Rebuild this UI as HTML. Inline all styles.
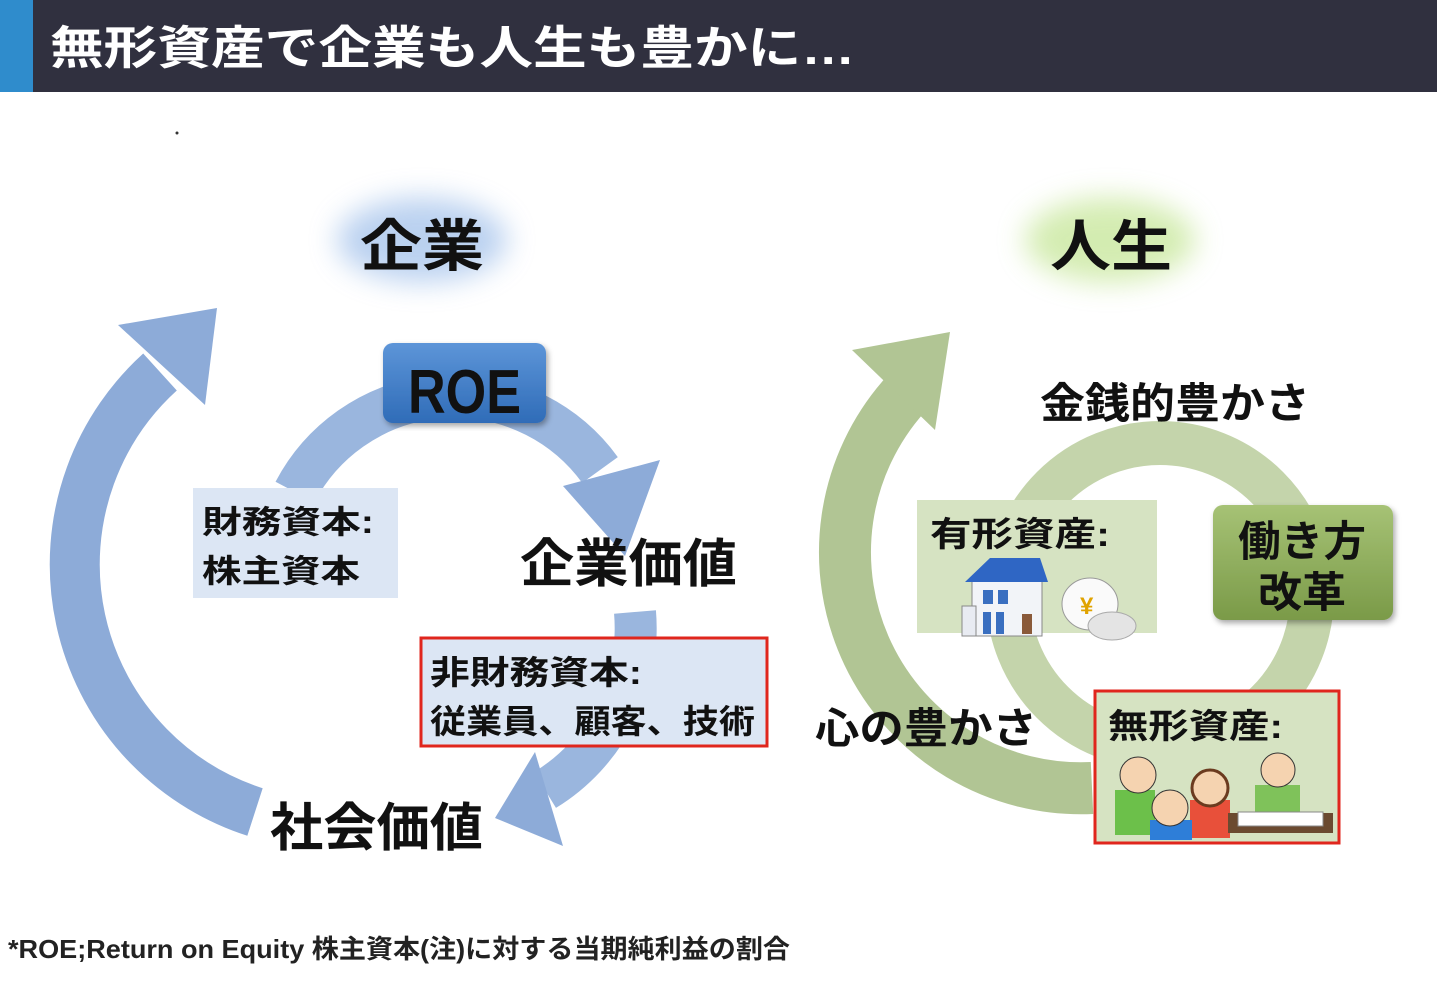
<!DOCTYPE html>
<html><head><meta charset="utf-8"><style>
html,body{margin:0;padding:0;background:#fff;}
svg{display:block;}
text{font-family:"Liberation Sans","Noto Sans CJK JP",sans-serif;font-weight:bold;}
</style></head><body>
<svg width="1437" height="994" viewBox="0 0 1437 994" xmlns="http://www.w3.org/2000/svg">
<defs>
<linearGradient id="roe" x1="0" y1="0" x2="0" y2="1"><stop offset="0" stop-color="#5d95d8"/><stop offset="1" stop-color="#2f6cb8"/></linearGradient>
<linearGradient id="hat" x1="0" y1="0" x2="0" y2="1"><stop offset="0" stop-color="#a6c275"/><stop offset="1" stop-color="#7a9a48"/></linearGradient>
<filter id="gb" x="-50%" y="-80%" width="200%" height="260%"><feGaussianBlur stdDeviation="14"/></filter>
<filter id="sh"><feDropShadow dx="2" dy="3" stdDeviation="3" flood-opacity="0.35"/></filter>
</defs>
<rect x="0" y="0" width="1437" height="92" fill="#30303f"/>
<rect x="0" y="0" width="33" height="92" fill="#2f8ccc"/>
<text x="50" y="64" font-size="46" fill="#fff" textLength="805" lengthAdjust="spacingAndGlyphs">無形資産で企業も人生も豊かに…</text>
<circle cx="177" cy="133" r="1.5" fill="#333"/>

<ellipse cx="422" cy="240" rx="85" ry="42" fill="#8db3e6" opacity="0.6" filter="url(#gb)"/>
<text x="360" y="266" font-size="56" fill="#111" textLength="124" lengthAdjust="spacingAndGlyphs">企業</text>
<ellipse cx="1110" cy="240" rx="85" ry="42" fill="#b7e07e" opacity="0.6" filter="url(#gb)"/>
<text x="1050" y="266" font-size="56" fill="#111" textLength="122" lengthAdjust="spacingAndGlyphs">人生</text>

<path d="M255,812 A260,260 0 0 1 160,372" fill="none" stroke="#8dabd8" stroke-width="50"/>
<polygon points="118,325 217,308 205,405" fill="#8dabd8"/>
<path d="M295,492 A180,180 0 0 1 600,470" fill="none" stroke="#9ab6de" stroke-width="44"/>
<polygon points="563,486 660,460 625,556" fill="#8dabd8"/>
<path d="M635,612 A190,190 0 0 1 545,790" fill="none" stroke="#9ab6de" stroke-width="42"/>
<polygon points="535,752 495,818 563,846" fill="#8dabd8"/>

<rect x="383" y="343" width="163" height="80" rx="10" fill="url(#roe)" filter="url(#sh)"/>
<text x="408" y="413" font-size="62" fill="#111" textLength="113" lengthAdjust="spacingAndGlyphs">ROE</text>

<rect x="193" y="488" width="205" height="110" fill="#dce6f4"/>
<text x="202" y="533" font-size="32" fill="#111" textLength="172" lengthAdjust="spacingAndGlyphs">財務資本:</text>
<text x="202" y="582" font-size="32" fill="#111" textLength="158" lengthAdjust="spacingAndGlyphs">株主資本</text>

<text x="520" y="582" font-size="52" fill="#111" textLength="217" lengthAdjust="spacingAndGlyphs">企業価値</text>

<rect x="421" y="638" width="346" height="108" fill="#dce6f4" stroke="#e0261d" stroke-width="3"/>
<text x="430" y="684" font-size="33" fill="#111" textLength="212" lengthAdjust="spacingAndGlyphs">非財務資本:</text>
<text x="430" y="733" font-size="33" fill="#111" textLength="325" lengthAdjust="spacingAndGlyphs">従業員、顧客、技術</text>

<text x="270" y="846" font-size="52" fill="#111" textLength="213" lengthAdjust="spacingAndGlyphs">社会価値</text>

<path d="M1092,788 A236,236 0 0 1 905,395" fill="none" stroke="#b1c594" stroke-width="52"/>
<polygon points="852,350 950,332 935,430" fill="#b1c594"/>
<circle cx="1160" cy="595" r="152" fill="none" stroke="#c4d4ab" stroke-width="44"/>

<text x="1040" y="418" font-size="42" fill="#111" textLength="270" lengthAdjust="spacingAndGlyphs">金銭的豊かさ</text>

<rect x="917" y="500" width="240" height="133" fill="#d6e3c2"/>
<text x="930" y="546" font-size="34" fill="#111" textLength="180" lengthAdjust="spacingAndGlyphs">有形資産:</text>
<rect x="972" y="578" width="70" height="58" fill="#f2f4f8" stroke="#888" stroke-width="1"/>
<polygon points="965,582 990,558 1040,558 1048,582" fill="#2f66c4"/>
<rect x="983" y="590" width="10" height="14" fill="#3a6fc0"/><rect x="998" y="590" width="10" height="14" fill="#3a6fc0"/>
<rect x="983" y="612" width="8" height="22" fill="#3a6fc0"/><rect x="996" y="612" width="8" height="22" fill="#3a6fc0"/>
<rect x="1022" y="614" width="10" height="20" fill="#8a5a3a"/>
<rect x="962" y="606" width="14" height="30" fill="#e8ebf2" stroke="#888"/>
<ellipse cx="1090" cy="604" rx="28" ry="26" fill="#fafafa" stroke="#999"/>
<text x="1080" y="614" font-size="24" fill="#e0a300">¥</text>
<ellipse cx="1112" cy="626" rx="24" ry="14" fill="#e4e4e4" stroke="#aaa"/>

<rect x="1213" y="505" width="180" height="115" rx="10" fill="url(#hat)" filter="url(#sh)"/>
<text x="1238" y="556" font-size="42" fill="#111" textLength="128" lengthAdjust="spacingAndGlyphs">働き方</text>
<text x="1258" y="607" font-size="42" fill="#111" textLength="88" lengthAdjust="spacingAndGlyphs">改革</text>

<text x="815" y="743" font-size="42" fill="#111" textLength="222" lengthAdjust="spacingAndGlyphs">心の豊かさ</text>

<rect x="1095" y="691" width="244" height="152" fill="#d6e3c2" stroke="#e0261d" stroke-width="3"/>
<text x="1108" y="738" font-size="34" fill="#111" textLength="175" lengthAdjust="spacingAndGlyphs">無形資産:</text>
<rect x="1115" y="790" width="40" height="45" fill="#6cc04a"/>
<circle cx="1138" cy="775" r="18" fill="#f5d3b0" stroke="#333"/>
<rect x="1190" y="800" width="40" height="38" fill="#e8503a"/>
<circle cx="1210" cy="788" r="18" fill="#f5d3b0" stroke="#6b3b1f" stroke-width="3"/>
<rect x="1150" y="820" width="42" height="20" fill="#2e7ed8"/>
<circle cx="1170" cy="808" r="18" fill="#f5d3b0" stroke="#333"/>
<rect x="1255" y="785" width="45" height="35" fill="#7fc25a"/>
<circle cx="1278" cy="770" r="17" fill="#f5d3b0" stroke="#333"/>
<rect x="1228" y="813" width="105" height="20" fill="#6b4a30"/>
<rect x="1238" y="812" width="85" height="14" fill="#fff" stroke="#888"/>

<text x="8" y="958" font-size="26" fill="#222" textLength="782" lengthAdjust="spacingAndGlyphs">*ROE;Return on Equity  株主資本(注)に対する当期純利益の割合</text>
</svg>
</body></html>
